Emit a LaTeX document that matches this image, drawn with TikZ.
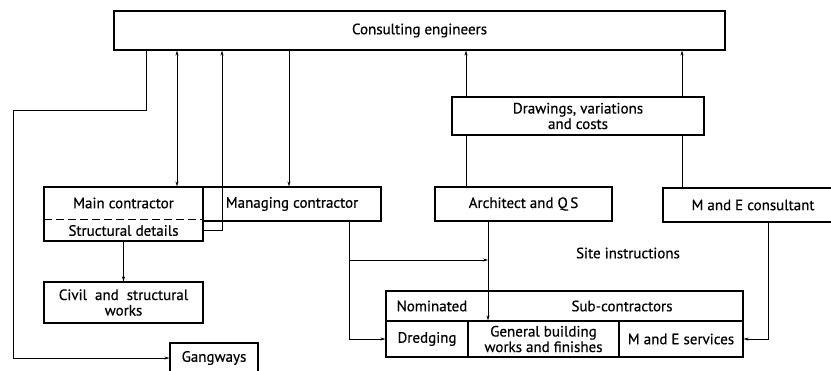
\documentclass[tikz,border=0pt]{standalone}
\usepackage{fontspec}
\setmainfont{PT Sans}[FakeBold=0.5]
\usetikzlibrary{arrows.meta}
\begin{document}
\begin{tikzpicture}[x=1pt,y=-1pt,
  box/.style={draw,line width=1.2pt,inner sep=0pt,align=center,font=\fontsize{15}{15.5}\selectfont},
  lbl/.style={inner sep=0pt,align=center,font=\fontsize{15}{15.5}\selectfont},
  arr/.style={line width=0.6pt,-{Stealth[length=5pt,width=3pt]}},
  dbl/.style={line width=0.6pt,{Stealth[length=5pt,width=3pt]}-{Stealth[length=5pt,width=3pt]}}]
  \useasboundingbox (0,0) rectangle (831,370);
  \clip (0,0) rectangle (831,370);
  % boxes
  \node[box,minimum width=611pt,minimum height=39pt] (cons) at (419.5,30.5) {Consulting engineers};
  \node[box,minimum width=159pt,minimum height=54pt] (main) at (123.5,214) {};
  \node[lbl] (mainlbl) at (123.5,203) {Main contractor};
  \node[lbl,minimum width=159pt,minimum height=21pt] (det) at (123.5,230.5) {Structural details};
  \draw[line width=1.2pt,dash pattern=on 8pt off 4pt] (det.north west) -- (det.north east);
  \node[box,minimum width=178pt,minimum height=34pt] (mgr) at (292,204) {Managing contractor};
  \node[box,minimum width=177pt,minimum height=34pt] (arch) at (523.5,204) {Architect and Q\,S};
  \node[box,minimum width=180pt,minimum height=34pt] (mec) at (753,205) {M and E consultant};
  \node[box,minimum width=159pt,minimum height=41pt] (civil) at (123.5,302.5) {Civil \ and \ structural\\works};
  \node[box,minimum width=88pt,minimum height=30pt] (gang) at (214,358) {Gangways};
  % sub-contractors
  \node[box,minimum width=357pt,minimum height=30pt] (subs) at (564.5,306) {};
  \node[lbl] (nom) at (432,306) {Nominated};
  \node[lbl] (sublbl) at (622,306) {Sub-contractors};
  \node[box,minimum width=82pt,minimum height=36pt] (dre) at (427,339) {Dredging};
  \node[box,minimum width=151pt,minimum height=36pt] (gen) at (543.5,339) {General building\\works and finishes};
  \node[box,minimum width=124pt,minimum height=36pt] (mes) at (681,339) {M and E services};
  \node[lbl] (si) at (628,253) {Site instructions};
  % columns
  \coordinate (xa) at (146,0);
  \coordinate (xw) at (13,110);
  \coordinate (xb) at (177,0);
  \coordinate (xc) at (222,0);
  \coordinate (xd) at (289,0);
  \coordinate (xe) at (466,0);
  \coordinate (xf) at (488,0);
  \coordinate (xg) at (682,0);
  \coordinate (xh) at (768,0);
  \coordinate (xm) at (349,260);
  % connectors
  \draw[arr] (cons.south -| xa) |- (xw) |- (gang.west);
  \draw[dbl] (cons.south -| xb) -- (main.north -| xb);
  \draw[arr] (det.east) -| (cons.south -| xc);
  \draw[arr] (cons.south -| xd) -- (mgr.north -| xd);
  \draw[arr] (arch.north -| xe) -- (cons.south -| xe);
  \draw[arr] (mec.north -| xg) -- (cons.south -| xg);
  \draw[arr] (arch.south -| xf) -- (gen.north -| xf);
  \draw[arr] (mgr.south -| xm) |- (dre.west);
  \draw[arr] (xm) -- (xm -| xf);
  \draw[arr] (mec.south -| xh) |- (mes.east);
  \draw[arr] (det.south) -- (civil.north);
  \node[box,fill=white,minimum width=252pt,minimum height=38pt] (drw) at (578,116) {Drawings, variations\\and costs};
\end{tikzpicture}
\end{document}
